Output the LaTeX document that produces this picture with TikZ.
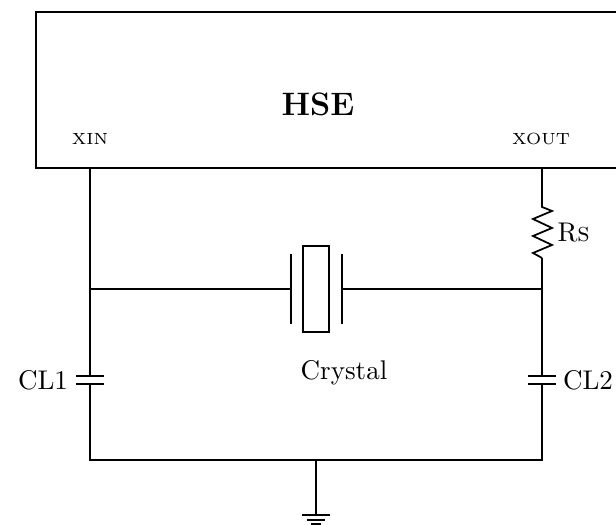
\documentclass[tikz,border=0pt]{standalone}
\usepackage{tikz}
\usetikzlibrary{
    calc,
    positioning,
}
\tikzstyle{plate}=[line width=0.9pt]
\tikzstyle{pin}=[font=\fontsize{6}{7}\selectfont]
\tikzset{every picture/.style={line width=0.65pt}}

\begin{document}
\begin{tikzpicture}[x=0.37pt, y=-0.37pt, every node/.style={inner sep=1pt}]
            \clip (0,0) rectangle (616,525);
            % oscillator block
            \draw (36,12) rectangle (660,168);
            \node[font=\large\bfseries] (hse) at (318,104) {HSE};
            \node[pin] (xin) at (90,139) {XIN};
            \node[pin] (xout) at (541,139) {XOUT};
            \coordinate (xinpin) at (90,168);
            \coordinate (xoutpin) at (542,168);
            % resistor
            \coordinate (rtop) at (542,207);
            \coordinate (rbot) at (542,258);
            \draw (xoutpin) -- (rtop) -- ++(10,4) -- ++(-19,8) -- ++(19,9) -- ++(-19,8) -- ++(19,9) -- ++(-19,8) -- (rbot);
            \node[anchor=west] (rs) at ($(rtop)!0.5!(rbot)+(12,0)$) {R\textsc{s}};
            % crystal
            \coordinate (lnode) at (90,289);
            \coordinate (rnode) at (542,289);
            \node[draw, minimum width=9.6pt, minimum height=31.8pt, inner sep=0pt] (xtal) at (316,289) {};
            \coordinate (lplate) at (291,289);
            \coordinate (rplate) at (342,289);
            \draw[plate] ($(lplate)+(0,-35)$) -- ($(lplate)+(0,35)$);
            \draw[plate] ($(rplate)+(0,-35)$) -- ($(rplate)+(0,35)$);
            \draw (lnode) -- (lplate);
            \draw (rplate) -- (rnode);
            \draw (xinpin) -- (lnode);
            \draw (rbot) -- (rnode);
            \node (crystal) at (344,373) {Crystal};
            % load capacitors
            \coordinate (c1top) at (90,376);
            \coordinate (c1bot) at (90,384);
            \coordinate (c2top) at (542,376);
            \coordinate (c2bot) at (542,384);
            \draw (lnode) -- (c1top);
            \draw (rnode) -- (c2top);
            \foreach \c in {c1top,c1bot,c2top,c2bot}
                \draw ($(\c)+(-14,0)$) -- ($(\c)+(14,0)$);
            \node (cl1) at (43,380) {CL1};
            \node (cl2) at (588,380) {CL2};
            % ground
            \coordinate (lbot) at (90,460);
            \coordinate (rbotw) at (542,460);
            \coordinate (gnd) at (316,460);
            \coordinate (gndbar) at (316,515);
            \draw (c1bot) -- (lbot) -- (rbotw) -- (c2bot);
            \draw (gnd) -- (gndbar);
            \draw ($(gndbar)+(-14,0)$) -- ($(gndbar)+(14,0)$);
            \draw ($(gndbar)+(-9,5)$) -- ($(gndbar)+(9,5)$);
            \draw ($(gndbar)+(-5,9)$) -- ($(gndbar)+(5,9)$);
        \end{tikzpicture}
\end{document}
